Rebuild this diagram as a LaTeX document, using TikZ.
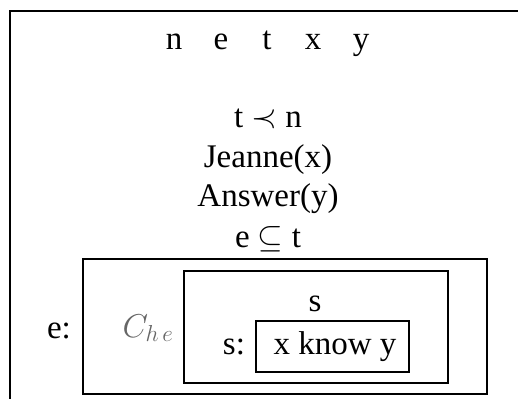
\RequirePackage{fix-cm}
\documentclass[tikz,border=0pt]{standalone}
\usepackage{fontspec}
\setmainfont{Liberation Serif}
\begin{document}
\begin{tikzpicture}[x=1pt,y=-1pt,
  txt/.style={inner sep=0pt,anchor=base,font=\fontsize{33}{38}\selectfont},
  frame/.style={draw,line width=2.2pt},
  outer/.style={draw,line width=2.8pt}]
\useasboundingbox (0,0) rectangle (518,398);
\draw[outer] (10,400) -- (10,11) -- (520,11);
\node[txt] (vn) at (174,50) {n};
\node[txt] (ve) at (221,50) {e};
\node[txt] (vt) at (267,50) {t};
\node[txt] (vx) at (313,50) {x};
\node[txt] (vy) at (361,50) {y};
\node[txt] (c1) at (268,128) {t $\prec$ n};
\node[txt] (c2) at (268,167) {Jeanne(x)};
\node[txt] (c3) at (268,206) {Answer(y)};
\node[txt] (c4) at (268,247) {e $\subseteq$ t};
\draw[frame] (83,259) rectangle (487,394);
\node[txt] (elab) at (59,338) {e:};
\node[txt,text=black!60] (che) at (148,337) {$C_{h\,e}$};
\draw[frame] (184,271) rectangle (448,383);
\node[txt] (slab) at (315,311) {s};
\node[txt] (scol) at (234,354) {s:};
\draw[frame] (256,321) rectangle (409,372);
\node[txt] (know) at (335,354) {x know y};
\end{tikzpicture}
\end{document}
